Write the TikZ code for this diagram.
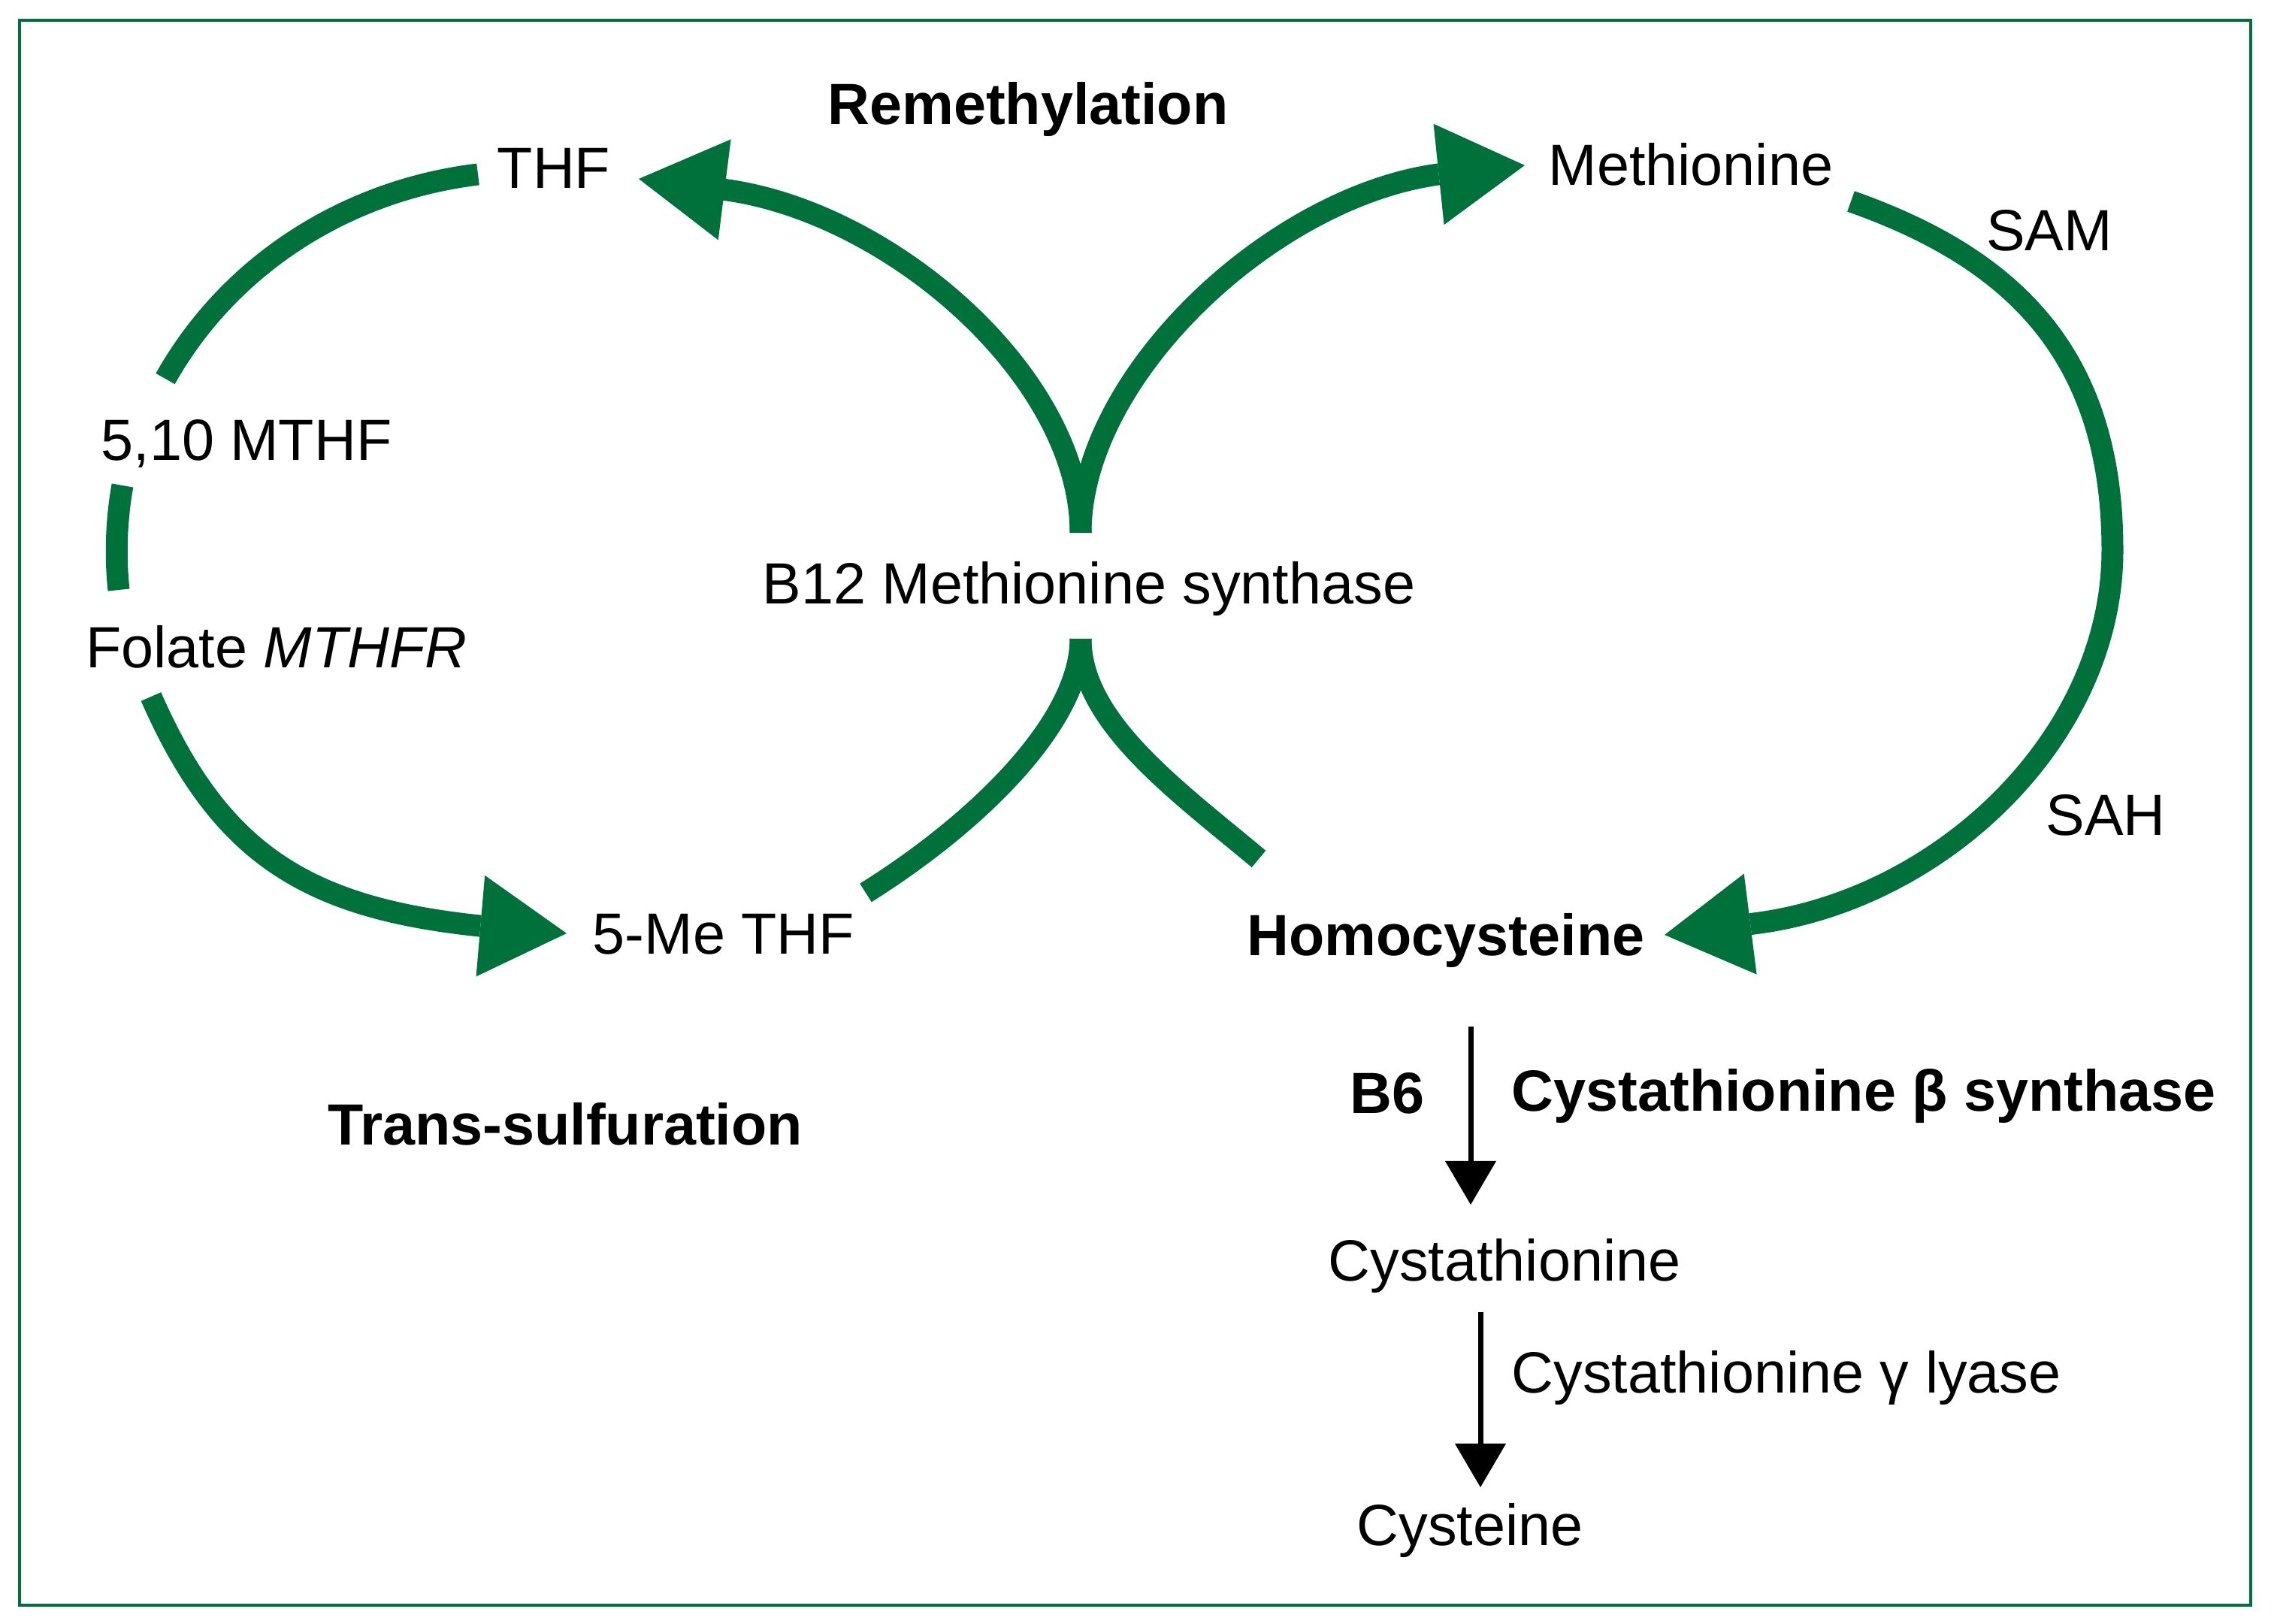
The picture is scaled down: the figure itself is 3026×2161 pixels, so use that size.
\documentclass[tikz,border=0pt]{standalone}
\usepackage{fontspec}
\setmainfont{Liberation Sans}
\usepackage{tikz}
\usetikzlibrary{arrows.meta}
\definecolor{cyclegreen}{RGB}{0,113,59}

\begin{document}
\begin{tikzpicture}[x=0.01cm,y=-0.01cm,
    lbl/.style={anchor=base,inner sep=0pt,font=\fontsize{22}{26}\selectfont},
    hdr/.style={lbl,font=\fontsize{22}{26}\selectfont\bfseries},
    flow/.style={color=cyclegreen,line width=2.9mm},
    flowhead/.style={flow,-{Triangle[length=11.5mm,width=13.5mm,line width=0pt 0]}},
    react/.style={black,line width=0.7mm,-{Triangle[length=5.8mm,width=6.8mm,line width=0pt 0]}}]
  \useasboundingbox (0,0) rectangle (3026,2161);
  \draw[cyclegreen,line width=0.4mm] (26,27) rectangle (2995,2136);

  \node[hdr] (remeth)  at (1368,166)  {Remethylation};
  \node[lbl] (thf)     at (737,251)   {THF};
  \node[lbl] (meth)    at (2250,247)  {Methionine};
  \node[lbl] (sam)     at (2727,334)  {SAM};
  \node[lbl] (mthf)    at (328,613)   {5,10 MTHF};
  \node[lbl] (b12)     at (1449,804)  {B12 Methionine synthase};
  \node[lbl] (folate)  at (368,888)   {Folate \textit{MTHFR}};
  \node[lbl] (sah)     at (2802,1111) {SAH};
  \node[lbl] (methf)   at (963,1269)  {5-Me THF};
  \node[hdr] (hcy)     at (1924,1271) {Homocysteine};
  \node[hdr] (transs)  at (752,1523)  {Trans-sulfuration};
  \node[hdr] (b6)      at (1846,1481) {B6};
  \node[hdr,anchor=base west] (cbs) at (2011,1478) {Cystathionine β synthase};
  \node[lbl] (cysta)   at (2002,1704) {Cystathionine};
  \node[lbl,anchor=base west] (cgl) at (2011,1853) {Cystathionine γ lyase};
  \node[lbl] (cys)     at (1956,2056) {Cysteine};

  \coordinate (thfend)    at (636,232);
  \coordinate (mthftop)   at (220,504);
  \coordinate (mthfbot)   at (163,646);
  \coordinate (foltop)    at (158,785);
  \coordinate (folbot)    at (201,927);
  \coordinate (methfback) at (638,1232);
  \coordinate (methftip)  at (754,1242);
  \coordinate (b12top)    at (1438,709);
  \coordinate (b12bot)    at (1438,850);
  \coordinate (thfback)   at (961,252);
  \coordinate (thftip)    at (850,238);
  \coordinate (methback)  at (1914,232);
  \coordinate (methtip)   at (2029,220);
  \coordinate (methfend)  at (1152,1188);
  \coordinate (hcyend)    at (1675,1143);
  \coordinate (methend)   at (2463,268);
  \coordinate (samsah)    at (2811,732);
  \coordinate (hcyback)   at (2334,1229);
  \coordinate (hcytip)    at (2215,1244);
  \coordinate (cbstop)    at (1957,1366);
  \coordinate (cbstip)    at (1957,1603);
  \coordinate (cgltop)    at (1970,1746);
  \coordinate (cgltip)    at (1970,1979);

  \draw[flow]     (thfend) .. controls +(-174,21) and +(86,-153) .. (mthftop);
  \draw[flow]     (mthfbot) .. controls +(-8,44) and +(-5,-45) .. (foltop);
  \draw[flowhead] (folbot) .. controls +(92,210) and +(-229,-24) .. (methfback) -- (methftip);
  \draw[flow]     (methfend) .. controls +(150,-94) and +(0,110) .. (b12bot);
  \draw[flow]     (hcyend) .. controls +(-110,-92) and +(0,110) .. (b12bot);
  \draw[flowhead] (b12top) .. controls +(0,-209) and +(222,28) .. (thfback) -- (thftip);
  \draw[flowhead] (b12top) .. controls +(0,-209) and +(-221,30) .. (methback) -- (methtip);
  \draw[flowhead] (methend) .. controls +(216,76) and +(0,-260) .. (samsah)
                  .. controls +(0,250) and +(248,-31) .. (hcyback) -- (hcytip);
  \draw[react]    (cbstop) -- (cbstip);
  \draw[react]    (cgltop) -- (cgltip);
\end{tikzpicture}
\end{document}
